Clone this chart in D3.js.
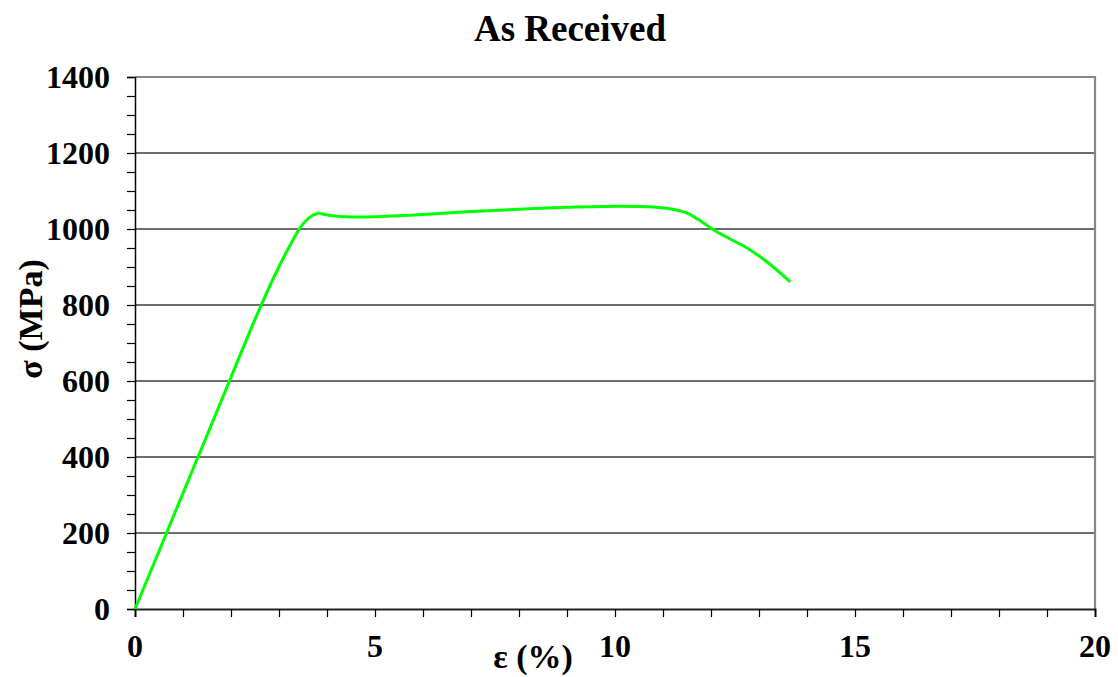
<!DOCTYPE html>
<html>
<head>
<meta charset="utf-8">
<script src="https://cdn.jsdelivr.net/npm/d3@7"></script>
<style>
  html, body { margin: 0; padding: 0; background: #fff; }
  svg text { font-family: "Liberation Serif", "Times New Roman", serif; font-weight: bold; fill: #000; }
</style>
</head>
<body>
<svg id="chart" width="1118" height="677"></svg>
<script>
// Stress–strain curve, as-received specimen
const strain = [0, 0.5, 1.0, 1.5, 2.0, 2.5, 2.9, 3.2, 3.45, 3.65, 3.8, 4.0, 4.4, 5.0, 6.0, 7.0, 8.0, 9.0, 10.1, 10.8, 11.2, 11.5, 11.8, 12.05, 12.35, 12.75, 13.15, 13.65];
const stress = [0, 152, 305, 457, 610, 762, 875, 950, 1005, 1032, 1041, 1037, 1032, 1032, 1038, 1046, 1052, 1057, 1060, 1058, 1052, 1042, 1020, 998, 977, 950, 915, 861];

const xTicks = [0, 5, 10, 15, 20];
const yTicks = [0, 200, 400, 600, 800, 1000, 1200, 1400];
const titleText = "As Received";
const xLabel = "ε (%)";
const yLabel = "σ (MPa)";

const svg = d3.select("#chart");
const plot = { left: 135, right: 1095, top: 77, bottom: 609 };

const x = d3.scaleLinear().domain([0, 20]).range([plot.left, plot.right]);
const y = d3.scaleLinear().domain([0, 1400]).range([plot.bottom, plot.top]);

// Horizontal gridlines
svg.append("g")
  .selectAll("line")
  .data(yTicks.filter(d => d > 0 && d < 1400))
  .join("line")
  .attr("x1", plot.left).attr("x2", plot.right)
  .attr("y1", d => y(d)).attr("y2", d => y(d))
  .attr("stroke", "#3c3c3c").attr("stroke-width", 1.4);

// Top and right frame
svg.append("path")
  .attr("d", `M${plot.left},${plot.top}H${plot.right}V${plot.bottom}`)
  .attr("fill", "none").attr("stroke", "#878787").attr("stroke-width", 2.2);

// Y axis with minor ticks every 50
const yAxis = d3.axisLeft(y)
  .tickValues(d3.range(0, 1401, 50))
  .tickSize(8)
  .tickFormat("");
const gy = svg.append("g").attr("transform", `translate(${plot.left},0)`).call(yAxis);
gy.select(".domain").attr("stroke", "#000").attr("stroke-width", 1.5);
gy.selectAll(".tick line").attr("stroke", "#000").attr("stroke-width", 1.2);

// Y tick labels
svg.append("g")
  .selectAll("text")
  .data(yTicks)
  .join("text")
  .attr("x", 110)
  .attr("y", d => y(d) + 11)
  .attr("text-anchor", "end")
  .attr("font-size", 32)
  .text(d => d);

// X axis with minor ticks every 1
const xAxis = d3.axisBottom(x)
  .tickValues(d3.range(0, 21, 1))
  .tickSize(8)
  .tickFormat("");
const gx = svg.append("g").attr("transform", `translate(0,${plot.bottom})`).call(xAxis);
gx.select(".domain").attr("stroke", "#222").attr("stroke-width", 2);
gx.selectAll(".tick line").attr("stroke", "#000").attr("stroke-width", 1.2);

// X tick labels
svg.append("g")
  .selectAll("text")
  .data(xTicks)
  .join("text")
  .attr("x", d => x(d))
  .attr("y", 657)
  .attr("text-anchor", "middle")
  .attr("font-size", 32)
  .text(d => d);

// Curve
const line = d3.line()
  .x((d, i) => x(strain[i]))
  .y((d, i) => y(stress[i]))
  .curve(d3.curveCatmullRom.alpha(0.5));

svg.append("path")
  .datum(stress)
  .attr("d", line)
  .attr("fill", "none")
  .attr("stroke", "#00ff00")
  .attr("stroke-width", 3)
  .attr("stroke-linejoin", "round");

// Title and axis labels
svg.append("text")
  .attr("x", 570).attr("y", 41)
  .attr("text-anchor", "middle")
  .attr("font-size", 37)
  .text(titleText);

svg.append("text")
  .attr("x", 533).attr("y", 668)
  .attr("text-anchor", "middle")
  .attr("font-size", 34)
  .text(xLabel);

svg.append("text")
  .attr("transform", "translate(42,319) rotate(-90)")
  .attr("text-anchor", "middle")
  .attr("font-size", 34)
  .text(yLabel);
</script>
</body>
</html>
